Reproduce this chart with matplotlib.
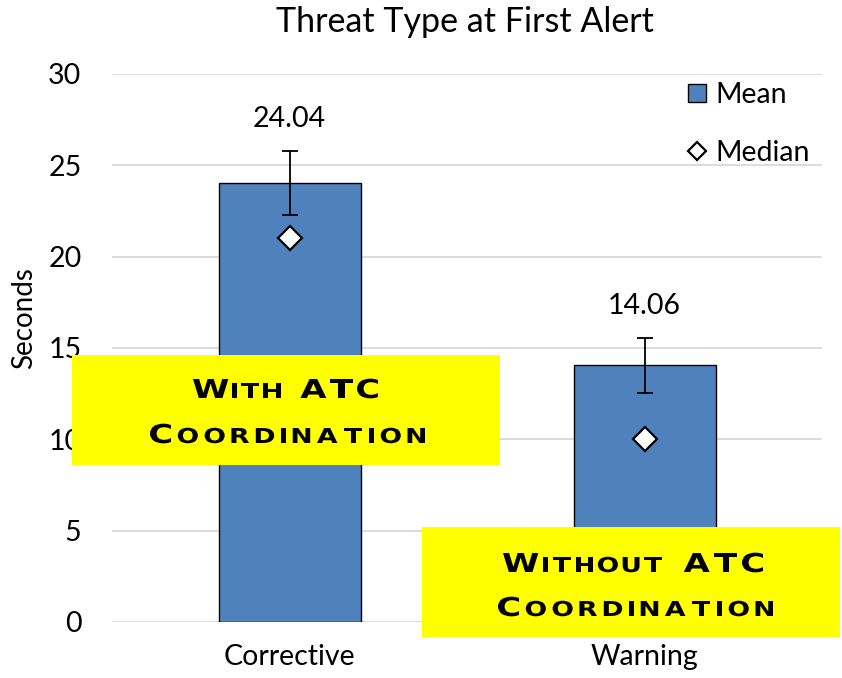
import matplotlib.pyplot as plt
from matplotlib.patches import Rectangle, PathPatch
from matplotlib.lines import Line2D
from matplotlib.textpath import TextPath
from matplotlib.font_manager import FontProperties
from matplotlib.transforms import Affine2D, IdentityTransform

# data
categories = ['Corrective', 'Warning']
means = [24.04, 14.06]
errors = [1.75, 1.5]
medians = [21.0, 10.0]

W, H = 842, 678
plt.rcParams['font.family'] = ['Lato', 'DejaVu Sans']

fig = plt.figure(figsize=(W / 100, H / 100), dpi=100)
ax = fig.add_axes([112 / W, 1 - 622 / H, 710 / W, 548 / H])

bar_color = '#4f81bd'
x = list(range(len(categories)))
ax.bar(x, means, width=0.4, color=bar_color, edgecolor='black', linewidth=1.0, zorder=2)
ax.errorbar(x, means, yerr=errors, fmt='none', ecolor='black', elinewidth=1.3,
            capsize=5.5, capthick=1.3, zorder=3)
ax.plot(x, medians, linestyle='none', marker='D', markersize=12, markerfacecolor='white',
        markeredgecolor='black', markeredgewidth=1.6, zorder=4)

for xi, m, e in zip(x, means, errors):
    ax.annotate(f'{m:.2f}', (xi, m + e), xytext=(0, 23), textcoords='offset points',
                ha='center', va='center', fontsize=20.5)

ax.set_xlim(-0.5, 1.5)
ax.set_ylim(0, 30)
ax.set_yticks(range(0, 31, 5))
ax.set_xticks(x)
ax.set_xticklabels(categories)
ax.tick_params(axis='both', length=0, labelsize=20.5)
ax.tick_params(axis='x', pad=16)
ax.tick_params(axis='y', pad=22)
ax.grid(axis='y', color='#d9d9d9', linewidth=1.3, zorder=0)
ax.set_axisbelow(True)
for s in ax.spines.values():
    s.set_visible(False)
fig.text(24 / W, 1 - 318 / H, 'Seconds', rotation=90, ha='center', va='center', fontsize=20)
fig.text(465 / W, 1 - 22 / H, 'Threat Type at First Alert', ha='center', va='center', fontsize=24.5)

handles = [
    Line2D([], [], linestyle='none', marker='s', markersize=13, markerfacecolor=bar_color,
           markeredgecolor='black', markeredgewidth=1.0),
    Line2D([], [], linestyle='none', marker='D', markersize=9, markerfacecolor='white',
           markeredgecolor='black', markeredgewidth=1.6),
]
ax.legend(handles, ['Mean', 'Median'], loc='upper right', bbox_to_anchor=(821 / W, 1 - 71 / H),
          bbox_transform=fig.transFigure, frameon=False, fontsize=20.5, handlelength=0.8,
          handletextpad=0.25, labelspacing=1.1, borderaxespad=0)


def px(xp, yp):
    return xp / W, 1 - yp / H


# yellow callout boxes with wide small-caps lettering
boxes = [
    (72, 355, 428, 110, [
        ([('W', 1), ('ITH', 0), (' ', 0), ('ATC', 1)], 193, 378, 398),
        ([('C', 1), ('OORDINATION', 0)], 150, 425, 443),
    ]),
    (422, 527, 418, 110, [
        ([('W', 1), ('ITHOUT', 0), (' ', 0), ('ATC', 1)], 503, 763, 572),
        ([('C', 1), ('OORDINATION', 0)], 498, 773, 616),
    ]),
]

prop = FontProperties(family='DejaVu Sans', weight='bold')
cap = 0.729
big, small = 19 / cap, 15 / cap
stretch = 1.3

for bx, by, bw, bh, lines in boxes:
    fig.add_artist(Rectangle(px(bx, by + bh), bw / W, bh / H, transform=fig.transFigure,
                             facecolor='#ffff00', edgecolor='none', zorder=5))
    for parts, x0, x1, base in lines:
        glyphs = []
        for text, is_big in parts:
            for ch in text:
                if ch == ' ':
                    glyphs.append((None, 12))
                    continue
                path = TextPath((0, 0), ch, size=big if is_big else small, prop=prop)
                ext = path.get_extents()
                path = path.transformed(Affine2D().translate(-ext.x0, 0).scale(stretch, 1))
                glyphs.append((path, ext.width * stretch))
        gap = (x1 - x0 - sum(w for _, w in glyphs)) / (len(glyphs) - 1)
        cx = x0
        for path, w in glyphs:
            if path is not None:
                tr = Affine2D().translate(cx, H - base)
                fig.add_artist(PathPatch(path.transformed(tr), transform=IdentityTransform(),
                                         facecolor='black', edgecolor='none', zorder=6))
            cx += w + gap

fig.savefig('out.png', dpi=100)
